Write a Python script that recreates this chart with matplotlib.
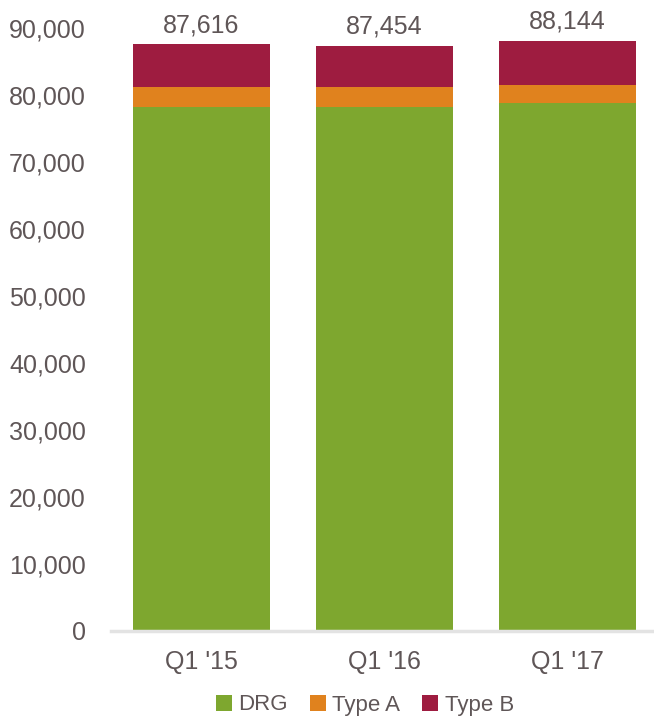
import matplotlib
matplotlib.use('Agg')
import matplotlib.pyplot as plt
import numpy as np

plt.rcParams['font.family'] = ['Liberation Sans', 'DejaVu Sans']

quarters = ["Q1 '15", "Q1 '16", "Q1 '17"]
drg = [78300, 78300, 78900]
type_a = [2950, 2950, 2700]
type_b = [6366, 6204, 6544]
totals = [87616, 87454, 88144]

text_color = '#5f5657'
colors = {'DRG': '#7ea72f', 'Type A': '#e0821e', 'Type B': '#9e1c40'}

fig = plt.figure(figsize=(6.54, 7.19), dpi=100)
ax = fig.add_axes([0.1697, 0.1224, 0.8303, 0.838])

x = np.arange(len(quarters))
w = 0.75
ax.bar(x, drg, w, color=colors['DRG'], label='DRG')
ax.bar(x, type_a, w, bottom=drg, color=colors['Type A'], label='Type A')
bottom_b = np.array(drg) + np.array(type_a)
ax.bar(x, type_b, w, bottom=bottom_b, color=colors['Type B'], label='Type B')

# total labels above bars
for xi, t in zip(x, totals):
    ax.annotate(f'{t:,}', (xi, t), xytext=(0, 5), textcoords='offset points',
                ha='center', va='bottom', fontsize=18, color=text_color,
                annotation_clip=False)

ax.set_ylim(0, 90000)
ax.set_xlim(-0.495, 2.475)
ax.set_yticks(range(0, 90001, 10000))
ax.set_yticklabels([f'{v:,}' for v in range(0, 90001, 10000)])
ax.set_xticks(x)
ax.set_xticklabels(quarters)
ax.tick_params(axis='y', length=0, labelsize=18, labelcolor=text_color, pad=18)
ax.tick_params(axis='x', length=0, labelsize=18, labelcolor=text_color, pad=14)

for s in ['top', 'right', 'left']:
    ax.spines[s].set_visible(False)
ax.spines['bottom'].set_color('#e3e3e3')
ax.spines['bottom'].set_linewidth(2.5)

handles, labels = ax.get_legend_handles_labels()
fig.legend(handles, labels, loc='center', bbox_to_anchor=(365 / 654, 1 - 705 / 719),
           ncol=3, frameon=False, fontsize=16, labelcolor=text_color,
           handlelength=0.7, handleheight=0.7, handletextpad=0.3, columnspacing=1.0)

fig.savefig('out.png', dpi=100)
